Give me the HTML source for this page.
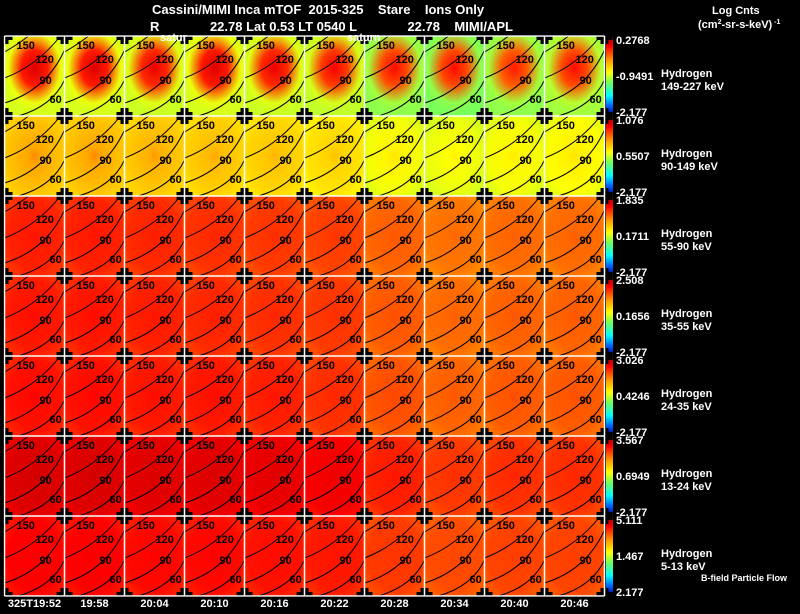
<!DOCTYPE html>
<html><head><meta charset="utf-8"><style>
html,body{margin:0;padding:0;background:#000;}
body{width:800px;height:609px;overflow:hidden;font-family:"Liberation Sans",sans-serif;}
svg text{font-family:"Liberation Sans",sans-serif;}
</style></head><body>
<svg id="chart" width="800" height="609" xmlns="http://www.w3.org/2000/svg">
<defs>
<linearGradient id="cbar" x1="0" y1="0" x2="0" y2="1">
<stop offset="0" stop-color="#b00000"/><stop offset="0.12" stop-color="#ff0000"/><stop offset="0.3" stop-color="#ff9900"/><stop offset="0.45" stop-color="#ffff00"/><stop offset="0.6" stop-color="#66ff66"/><stop offset="0.75" stop-color="#00ffff"/><stop offset="0.88" stop-color="#0066ff"/><stop offset="1" stop-color="#0000a0"/>
</linearGradient>
</defs>
<g id="panels"></g>
<g id="overlay"></g>
<g id="header" font-weight="bold" fill="#fff" font-size="13">
<text x="152" y="14" xml:space="preserve">Cassini/MIMI Inca mTOF  2015-325    Stare    Ions Only</text>
<text x="150" y="31" xml:space="preserve">R              22.78 Lat 0.53 LT 0540 L              22.78    MIMI/APL</text>
<text x="712" y="14" font-size="11">Log Cnts</text>
<text x="698" y="28" font-size="11">(cm<tspan font-size="7" dy="-4">2</tspan><tspan dy="4">-sr-s-keV)</tspan><tspan font-size="7" dy="-4"> -1</tspan></text>
<text x="701" y="581" font-size="9">B-field Particle Flow</text>
</g>
</svg>
<script>
const times=["325T19:52","19:58","20:04","20:10","20:16","20:22","20:28","20:34","20:40","20:46"];
const species=["149-227 keV","90-149 keV","55-90 keV","35-55 keV","24-35 keV","13-24 keV","5-13 keV"];
const cbMax=["0.2768","1.076","1.835","2.508","3.026","3.567","5.111"];
const cbMid=["-0.9491","0.5507","0.1711","0.1656","0.4246","0.6949","1.467"];
const cbMin=["-2.177","-2.177","-2.177","-2.177","-2.177","-2.177","2.177"];
// panel background level (0=blue..1=dark red)
const bgLevel=[
 [0.53,0.53,0.52,0.53,0.52,0.51,0.46,0.44,0.46,0.48],
 [0.64,0.64,0.63,0.62,0.61,0.59,0.54,0.53,0.54,0.55],
 [0.84,0.84,0.83,0.82,0.81,0.80,0.76,0.74,0.75,0.75],
 [0.85,0.85,0.84,0.83,0.82,0.81,0.77,0.75,0.76,0.76],
 [0.86,0.86,0.85,0.85,0.84,0.82,0.78,0.76,0.77,0.77],
 [0.93,0.93,0.92,0.92,0.91,0.89,0.84,0.81,0.82,0.82],
 [0.88,0.88,0.87,0.87,0.86,0.85,0.81,0.79,0.80,0.80]];
// hotspot level in panel centre
const hotLevel=[
 [0.93,0.93,0.91,0.93,0.91,0.89,0.87,0.87,0.85,0.87],
 [0.72,0.72,0.70,0.68,0.66,0.64,0.59,0.57,0.58,0.59],
 [0.86,0.86,0.85,0.84,0.83,0.82,0.78,0.76,0.77,0.77],
 [0.87,0.87,0.86,0.85,0.84,0.83,0.79,0.77,0.78,0.78],
 [0.88,0.88,0.87,0.87,0.86,0.84,0.80,0.78,0.79,0.79],
 [0.95,0.95,0.94,0.94,0.93,0.91,0.86,0.83,0.84,0.84],
 [0.89,0.89,0.88,0.88,0.87,0.86,0.82,0.80,0.81,0.81]];
const contourLabels=["150","120","90","60"];

const NS="http://www.w3.org/2000/svg";
const X0=4.5, PW=60, Y0=36, PH=80, NC=10, NR=7;
const stops=[[0,[0,0,160]],[0.12,[0,102,255]],[0.25,[0,255,255]],[0.4,[102,255,102]],[0.55,[255,255,0]],[0.7,[255,153,0]],[0.88,[255,0,0]],[1,[176,0,0]]];
function cmap(v){v=Math.max(0,Math.min(1,v));for(let i=1;i<stops.length;i++){if(v<=stops[i][0]){const a=stops[i-1],b=stops[i];const t=(v-a[0])/(b[0]-a[0]);const c=a[1].map((x,k)=>Math.round(x+(b[1][k]-x)*t));return `rgb(${c.join(',')})`;}}return 'rgb(176,0,0)';}
function xCol(c){return X0+c*PW;} function yRow(r){return Y0+r*PH;}
function mk(tag,attrs,parent){const e=document.createElementNS(NS,tag);for(const k in attrs)e.setAttribute(k,attrs[k]);parent.appendChild(e);return e;}
const svg=document.getElementById('chart');
const defs=svg.querySelector('defs');
const pg=document.getElementById('panels');
const ov=document.getElementById('overlay');
for(let r=0;r<NR;r++){
 for(let c=0;c<NC;c++){
  const x=xCol(c),y=yRow(r);
  const gid='g'+r+'_'+c;
  const rg=mk('radialGradient',{id:gid,cx:'0.5',cy:r==0?'0.4':'0.5',r:'0.55'},defs);
  mk('stop',{offset:'0','stop-color':cmap(hotLevel[r][c])},rg);
  mk('stop',{offset:r==0?'0.4':'0.2','stop-color':cmap(r==0?hotLevel[r][c]-0.08:(hotLevel[r][c]+bgLevel[r][c])/2)},rg);
  mk('stop',{offset:'0.8','stop-color':cmap(bgLevel[r][c])},rg);
  mk('stop',{offset:'1','stop-color':cmap(bgLevel[r][c]-0.02)},rg);
  const p=mk('rect',{x:x,y:y,width:PW,height:PH,fill:'url(#'+gid+')'},pg);
  
  
  const g=mk('g',{transform:`translate(${x},${y})`,fill:'none',stroke:'#000','stroke-width':'1'},pg);
  
  
  mk('path',{d:'M0 16 Q14 8 24 0'},g);
  mk('path',{d:'M0 42 Q32 30 56 0'},g);
  mk('path',{d:'M0 67 Q42 54 60 14'},g);
  mk('path',{d:'M14 80 Q48 70 60 44'},g);
  const lp=[[12,13],[31,27],[35,48],[45,67]];
  contourLabels.forEach((l,i)=>{const t=mk('text',{x:x+lp[i][0],y:y+lp[i][1],'font-size':'11',fill:'#000','font-weight':'bold'},pg);t.textContent=l;
   
   });
 }
 const cb=mk('rect',{x:606,y:yRow(r)+1,width:7,height:PH-2,fill:'url(#cbar)'},pg);
 
 
 const lab=[[cbMax[r],yRow(r)+8],[cbMid[r],yRow(r)+44],[cbMin[r],yRow(r)+80]];
 lab.forEach(l=>{const t=mk('text',{x:616,y:l[1],'font-size':'11','font-weight':'bold',fill:'#fff'},pg);t.textContent=l[0];
  
  });
 const h=mk('text',{x:661,y:yRow(r)+41,'font-size':'11','font-weight':'bold',fill:'#fff'},pg);h.textContent='Hydrogen';
 
 
 const e=mk('text',{x:661,y:yRow(r)+54,'font-size':'11','font-weight':'bold',fill:'#fff'},pg);e.textContent=species[r];
 
 
}
for(let r=0;r<=NR;r++)for(let c=0;c<=NC;c++){
 const x=xCol(c),y=yRow(r);
 mk('rect',{x:x-8,y:y-4,width:16,height:8,fill:'#000'},ov);
 mk('rect',{x:x-4,y:y-8,width:8,height:16,fill:'#000'},ov);
}
for(let c=0;c<=NC;c++){const l=mk('line',{x1:xCol(c),y1:Y0,x2:xCol(c),y2:yRow(NR),stroke:'#fff','stroke-width':'1.5'},ov);
 
 }
for(let r=0;r<=NR;r++){const l=mk('line',{x1:X0,y1:yRow(r),x2:xCol(NC),y2:yRow(r),stroke:'#fff','stroke-width':'1.5'},ov);
 
 }
mk('rect',{x:0,y:Y0-10,width:X0-0.8,height:PH*NR+20,fill:'#000'},ov);
mk('rect',{x:0,y:yRow(NR)+0.8,width:800,height:20,fill:'#000'},ov);
mk('rect',{x:0,y:Y0-10,width:620,height:9.2,fill:'#000'},ov);
[['satur',160],['saturn',347]].forEach(s=>{const t=mk('text',{x:s[1],y:41,'font-size':'11','font-weight':'bold',fill:'#fff'},ov);t.textContent=s[0];
 
 });
times.forEach((tm,i)=>{const t=mk('text',{x:xCol(i)+30,y:607,'font-size':'11','font-weight':'bold',fill:'#fff','text-anchor':'middle'},ov);t.textContent=tm;
 
 });
</script>
</body></html>
